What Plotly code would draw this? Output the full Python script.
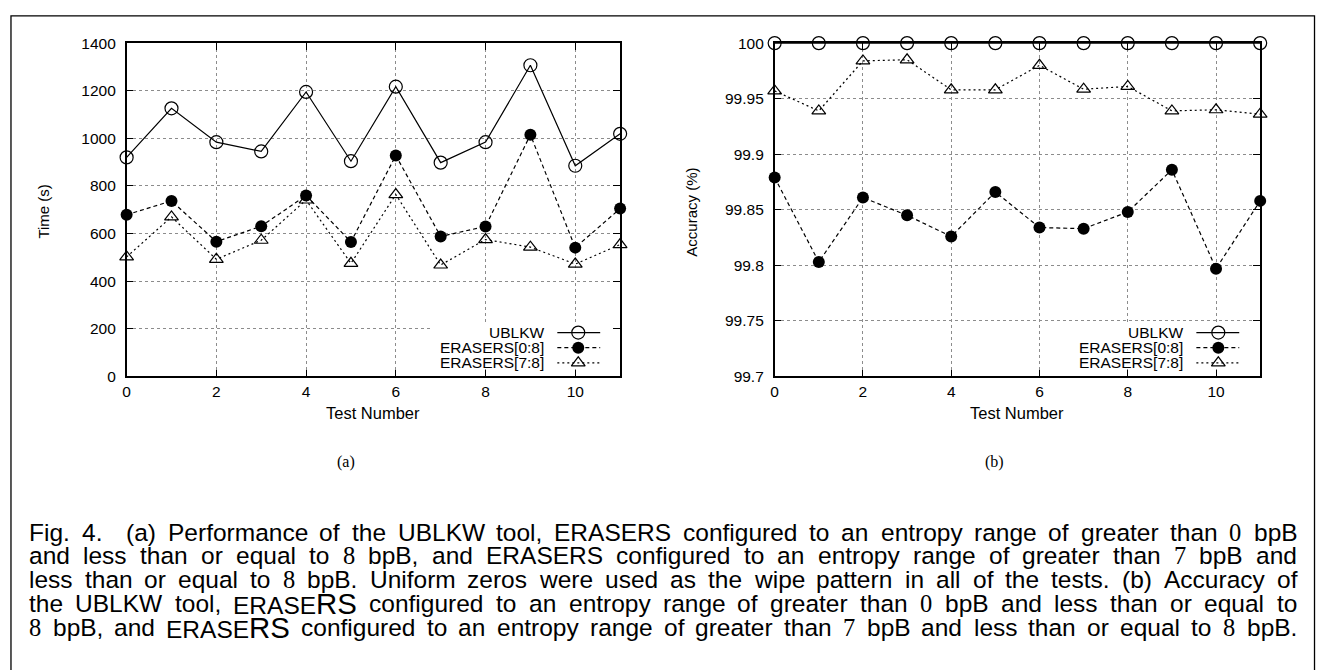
import plotly.graph_objects as go

W, H = 1319, 670

# ---------------- data ----------------
tests = [0, 1, 2, 3, 4, 5, 6, 7, 8, 9, 10, 11]
time_ublkw = [920, 1126, 984, 945, 1195, 904, 1217, 898, 984, 1307, 885, 1019]
time_e08 = [679, 737, 566, 631, 760, 565, 928, 588, 630, 1015, 541, 705]
time_e78 = [502, 670, 492, 572, 741, 475, 764, 468, 575, 543, 472, 554]

acc_ublkw = [100, 100, 100, 100, 100, 100, 100, 100, 100, 100, 100, 100]
acc_e08 = [99.879, 99.803, 99.861, 99.845, 99.826, 99.866, 99.834, 99.833, 99.848, 99.886, 99.797, 99.858]
acc_e78 = [99.957, 99.939, 99.984, 99.985, 99.958, 99.958, 99.980, 99.9585, 99.961, 99.939, 99.940, 99.936]

series_names = ["UBLKW", "ERASERS[0:8]", "ERASERS[7:8]"]
x_tick_vals = [0, 2, 4, 6, 8, 10]
time_ticks = [0, 200, 400, 600, 800, 1000, 1200, 1400]
acc_ticks = [99.7, 99.75, 99.8, 99.85, 99.9, 99.95, 100]
acc_tick_text = ["99.7", "99.75", "99.8", "99.85", "99.9", "99.95", "100"]

caption_lines = [
    "Fig. 4.  (a) Performance of the UBLKW tool, ERASERS configured to an entropy range of greater than 0 bpB",
    "and less than or equal to 8 bpB, and ERASERS configured to an entropy range of greater than 7 bpB and",
    "less than or equal to 8 bpB. Uniform zeros were used as the wipe pattern in all of the tests. (b) Accuracy of",
    "the UBLKW tool, ERASERS configured to an entropy range of greater than 0 bpB and less than or equal to",
    "8 bpB, and ERASERS configured to an entropy range of greater than 7 bpB and less than or equal to 8 bpB.",
]

# ---------------- style ----------------
SANS = "Liberation Sans"
SERIF = "Liberation Serif"
TICK_SIZE = 15.5
XTITLE_SIZE = 16.5
YTITLE_SIZE = 15
CAP_SIZE = 24.5
BIG_RS = 1.2


def px(x):
    return x / W


def py(y):
    return 1 - y / H


# plot areas in pixels
L_X0, L_X1 = 123, 618
R_X0, R_X1 = 773, 1260
P_Y0, P_Y1 = 35, 377

styles = [
    dict(line=dict(color="black", width=1.2, dash="solid"),
         marker=dict(symbol="circle-open", size=13, color="black", line=dict(width=1.2, color="black"))),
    dict(line=dict(color="black", width=1.2, dash="4px,3px"),
         marker=dict(symbol="circle", size=12, color="black", line=dict(width=0, color="black"))),
    dict(line=dict(color="black", width=1.2, dash="2px,3px"),
         marker=dict(symbol="triangle-up-open", size=12, color="black", line=dict(width=1.2, color="black"))),
]

fig = go.Figure()

left_data = [time_ublkw, time_e08, time_e78]
right_data = [acc_ublkw, acc_e08, acc_e78]

for name, ys, st in zip(series_names, left_data, styles):
    fig.add_trace(go.Scatter(x=tests, y=ys, mode="lines+markers", name=name,
                             line=st["line"], marker=st["marker"], cliponaxis=False,
                             showlegend=False, xaxis="x", yaxis="y"))
for name, ys, st in zip(series_names, right_data, styles):
    fig.add_trace(go.Scatter(x=tests, y=ys, mode="lines+markers", name=name,
                             line=st["line"], marker=st["marker"], cliponaxis=False,
                             showlegend=False, xaxis="x2", yaxis="y2"))

# ---------- key (gnuplot style: opaque box, text, then sample on the right) ----------
key_rows = [332, 347.5, 363]
key_specs = [  # (box x0, box x1, text right edge, line start, marker x, line end)
    (428, 609, 543, 555, 576, 598),
    (1070, 1251, 1184, 1196, 1218, 1239),
]
KEY_TOP, KEY_BOTTOM = 321.5, 369.5
annotations = []
for (bx0, bx1, tx, lx0, mx, lx1) in key_specs:
    fig.add_trace(go.Scatter(x=[bx0, bx1, bx1, bx0, bx0], y=[KEY_TOP, KEY_TOP, KEY_BOTTOM, KEY_BOTTOM, KEY_TOP],
                             mode="lines", fill="toself", fillcolor="white", line=dict(width=0, color="white"),
                             showlegend=False, hoverinfo="skip", xaxis="x3", yaxis="y3"))
    for name, row, st in zip(series_names, key_rows, styles):
        fig.add_trace(go.Scatter(x=[lx0, lx1], y=[row, row], mode="lines", line=st["line"],
                                 showlegend=False, hoverinfo="skip", xaxis="x3", yaxis="y3"))
        fig.add_trace(go.Scatter(x=[mx], y=[row], mode="markers", marker=st["marker"],
                                 showlegend=False, hoverinfo="skip", xaxis="x3", yaxis="y3",
                                 cliponaxis=False))
        annotations.append(dict(x=px(tx), y=py(row), xref="paper", yref="paper", text=name,
                                showarrow=False, xanchor="right", yanchor="middle", borderpad=0,
                                font=dict(family=SANS, size=TICK_SIZE, color="black")))

axis_common = dict(
    showline=True, linecolor="black", linewidth=1.5, mirror="allticks",
    ticks="inside", ticklen=7, tickwidth=1, tickcolor="black",
    showgrid=True, gridcolor="#8c8c8c", griddash="dot", gridwidth=1,
    zeroline=False, tickfont=dict(family=SANS, size=TICK_SIZE, color="black"),
    fixedrange=True,
)

fig.update_layout(
    width=W, height=H, autosize=False,
    margin=dict(l=0, r=0, t=0, b=0, pad=0),
    paper_bgcolor="white", plot_bgcolor="rgba(0,0,0,0)",
    font=dict(family=SANS, color="black"),
    showlegend=False,
    xaxis=dict(domain=[px(L_X0), px(L_X1)], range=[0, 11], tickvals=x_tick_vals, anchor="y",
               ticklabelstandoff=0, **axis_common),
    yaxis=dict(domain=[py(P_Y1), py(P_Y0)], range=[0, 1400], tickvals=time_ticks, anchor="x",
               ticklabelstandoff=6, **axis_common),
    xaxis2=dict(domain=[px(R_X0), px(R_X1)], range=[0, 11], tickvals=x_tick_vals, anchor="y2",
                ticklabelstandoff=0, **axis_common),
    yaxis2=dict(domain=[py(P_Y1), py(P_Y0)], range=[99.7, 100], tickvals=acc_ticks, ticktext=acc_tick_text,
                anchor="x2", ticklabelstandoff=6, **axis_common),
    xaxis3=dict(domain=[0, 1], range=[0, W], visible=False, anchor="y3", fixedrange=True),
    yaxis3=dict(domain=[0, 1], range=[H, 0], visible=False, anchor="x3", fixedrange=True),
)

shapes = [
    # outer frame
    dict(type="rect", xref="paper", yref="paper", x0=px(7), x1=px(1314.5), y0=-0.05, y1=py(7),
         line=dict(color="black", width=1.3), fillcolor="rgba(0,0,0,0)", layer="above"),
]

# axis titles and sub-figure labels
annotations += [
    dict(x=px(40), y=py(208), xref="paper", yref="paper", text="Time (s)", textangle=-90,
         showarrow=False, xanchor="center", yanchor="middle",
         font=dict(family=SANS, size=YTITLE_SIZE, color="black")),
    dict(x=px(690), y=py(208), xref="paper", yref="paper", text="Accuracy (%)", textangle=-90,
         showarrow=False, xanchor="center", yanchor="middle",
         font=dict(family=SANS, size=YTITLE_SIZE, color="black")),
    dict(x=px((L_X0 + L_X1) / 2), y=py(415), xref="paper", yref="paper", text="Test Number",
         showarrow=False, xanchor="center", yanchor="middle",
         font=dict(family=SANS, size=XTITLE_SIZE, color="black")),
    dict(x=px((R_X0 + R_X1) / 2), y=py(415), xref="paper", yref="paper", text="Test Number",
         showarrow=False, xanchor="center", yanchor="middle",
         font=dict(family=SANS, size=XTITLE_SIZE, color="black")),
    dict(x=px(343), y=py(465), xref="paper", yref="paper", text="(a)",
         showarrow=False, xanchor="center", yanchor="middle",
         font=dict(family=SERIF, size=16, color="black")),
    dict(x=px(994), y=py(465), xref="paper", yref="paper", text="(b)",
         showarrow=False, xanchor="center", yanchor="middle",
         font=dict(family=SERIF, size=16, color="black")),
]

# ---------------- justified caption ----------------
HELV = {
    " ": 278, "!": 278, "(": 333, ")": 333, ",": 278, "-": 333, ".": 278, ":": 278, "%": 889,
    "[": 278, "]": 278,
    "A": 667, "B": 667, "C": 722, "D": 722, "E": 667, "F": 611, "G": 778, "H": 722, "I": 278,
    "J": 500, "K": 667, "L": 556, "M": 833, "N": 722, "O": 778, "P": 667, "Q": 778, "R": 722,
    "S": 667, "T": 611, "U": 722, "V": 667, "W": 944, "X": 667, "Y": 667, "Z": 611,
    "a": 556, "b": 556, "c": 500, "d": 556, "e": 556, "f": 278, "g": 556, "h": 556, "i": 222,
    "j": 222, "k": 500, "l": 222, "m": 833, "n": 556, "o": 556, "p": 556, "q": 556, "r": 333,
    "s": 500, "t": 278, "u": 556, "v": 500, "w": 722, "x": 500, "y": 500, "z": 500,
}
for d in "0123456789":
    HELV[d] = 556


def sans_w(s, size):
    return sum(HELV.get(c, 556) for c in s) * size / 1000.0


def word_parts(word, line_idx):
    """returns (markup, width)"""
    if word.isdigit():
        return ('<span style="font-family:Liberation Serif">%s</span>' % word,
                500 * len(word) * CAP_SIZE / 1000.0)
    if word.startswith("ERASERS") and line_idx >= 3:
        big = CAP_SIZE * BIG_RS
        rest = word[len("ERASERS"):]
        markup = 'ERASE<span style="font-size:%.1fpx">RS</span>%s' % (big, rest)
        return markup, sans_w("ERASE", CAP_SIZE) + sans_w("RS", big) + sans_w(rest, CAP_SIZE)
    return word, sans_w(word, CAP_SIZE)


CAP_X0, CAP_X1 = 24, 1296
cap_baselines = [545, 569.5, 594, 618.5, 643]
space_w = sans_w(" ", CAP_SIZE)
for li, (line, base) in enumerate(zip(caption_lines, cap_baselines)):
    words = line.split(" ")
    parts = [word_parts(w, li) if w else ("", 0.0) for w in words]
    natural = sum(p[1] for p in parts) + space_w * (len(words) - 1)
    extra = (CAP_X1 - CAP_X0 - natural) / (len(words) - 1)
    x = CAP_X0
    for markup, wdt in parts:
        if markup:
            annotations.append(dict(x=px(x), y=py(base - 0.34 * CAP_SIZE), xref="paper", yref="paper",
                                    text=markup, showarrow=False, xanchor="left", yanchor="middle",
                                    borderpad=0, font=dict(family=SANS, size=CAP_SIZE, color="black")))
        x += wdt + space_w + extra

fig.update_layout(annotations=annotations, shapes=shapes)
fig.write_html("out.html")
